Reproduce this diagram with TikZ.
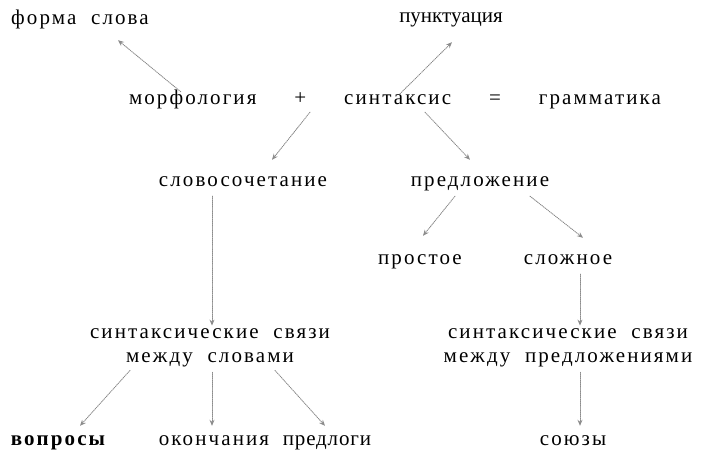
\documentclass[tikz,border=0pt]{standalone}
\usepackage{fontspec}
\setmainfont{Liberation Serif}[LetterSpace=10,WordSpace=2]
\usetikzlibrary{arrows.meta,calc}

\begin{document}
\begin{tikzpicture}[x=1pt,y=-1pt,line cap=round,
    word/.style={font=\fontsize{21}{24}\selectfont,inner sep=1pt,text height=14pt,text depth=4pt},
    bword/.style={word,font=\fontsize{21}{24}\selectfont\bfseries},
    ln/.style={draw=black!45,densely dotted,line width=0.9pt,-{Stealth[length=6pt,width=5pt]}}]
  \useasboundingbox (0,0) rectangle (718,457);
  % top row
  \node[word] (forma) at (80,20) {форма слова};
  \node[word,font=\fontsize{21}{24}\selectfont\addfontfeature{LetterSpace=0}] (punkt) at (451,18) {пунктуация};
  \node[word] (gram) at (395,100)
    {\makebox[532pt]{морфология\hfill+\hfill синтаксис\hfill=\hfill грамматика}};
  % second level
  \node[word] (slovos) at (243,182) {словосочетание};
  \node[word] (predl) at (480,182) {предложение};
  \node[word] (prost) at (420,260) {простое};
  \node[word] (slozh) at (568,260) {сложное};
  % links
  \node[word,align=center,text height=,text depth=] (svL) at (210,348) {синтаксические связи\\между словами};
  \node[word,align=center,text height=,text depth=] (svR) at (568,348) {синтаксические связи\\между предложениями};
  % bottom row
  \node[bword] (vopr) at (58,440) {вопросы};
  \node[word] (okon) at (214,440) {окончания};
  \node[word,font=\fontsize{21}{24}\selectfont\addfontfeature{LetterSpace=4}] (predlogi) at (327,440) {предлоги};
  \node[word] (souz) at (573,440) {союзы};

  \draw[ln] ($(gram.north west)+(53,2)$) -- ($(forma.south)+(38,10)$);
  \draw[ln] ($(gram.north)+(5,4)$) -- ($(punkt.south)+(1,14)$);
  \draw[ln] ($(gram.south)+(-85,2)$) -- ($(slovos.north)+(29,-12)$);
  \draw[ln] ($(gram.south)+(30,2)$) -- ($(predl.north)+(-10,-12)$);
  \draw[ln] ($(slovos.south)+(-31,4)$) -- ($(svL.north)+(2,-2)$);
  \draw[ln] ($(predl.south)+(-25,4)$) -- ($(prost.north)+(3,-14)$);
  \draw[ln] ($(predl.south)+(50,4)$) -- ($(slozh.north)+(15,-12)$);
  \draw[ln] ($(slozh.south)+(12,4)$) -- ($(svR.north)+(12,-2)$);
  \draw[ln] ($(svL.south)+(-80,2)$) -- ($(vopr.north)+(22,-4)$);
  \draw[ln] ($(svL.south)+(2,4)$) -- ($(okon.north)+(-2,-4)$);
  \draw[ln] ($(svL.south)+(65,2)$) -- ($(predlogi.north)+(-2,-4)$);
  \draw[ln] ($(svR.south)+(12,4)$) -- ($(souz.north)+(7,-4)$);
\end{tikzpicture}
\end{document}
